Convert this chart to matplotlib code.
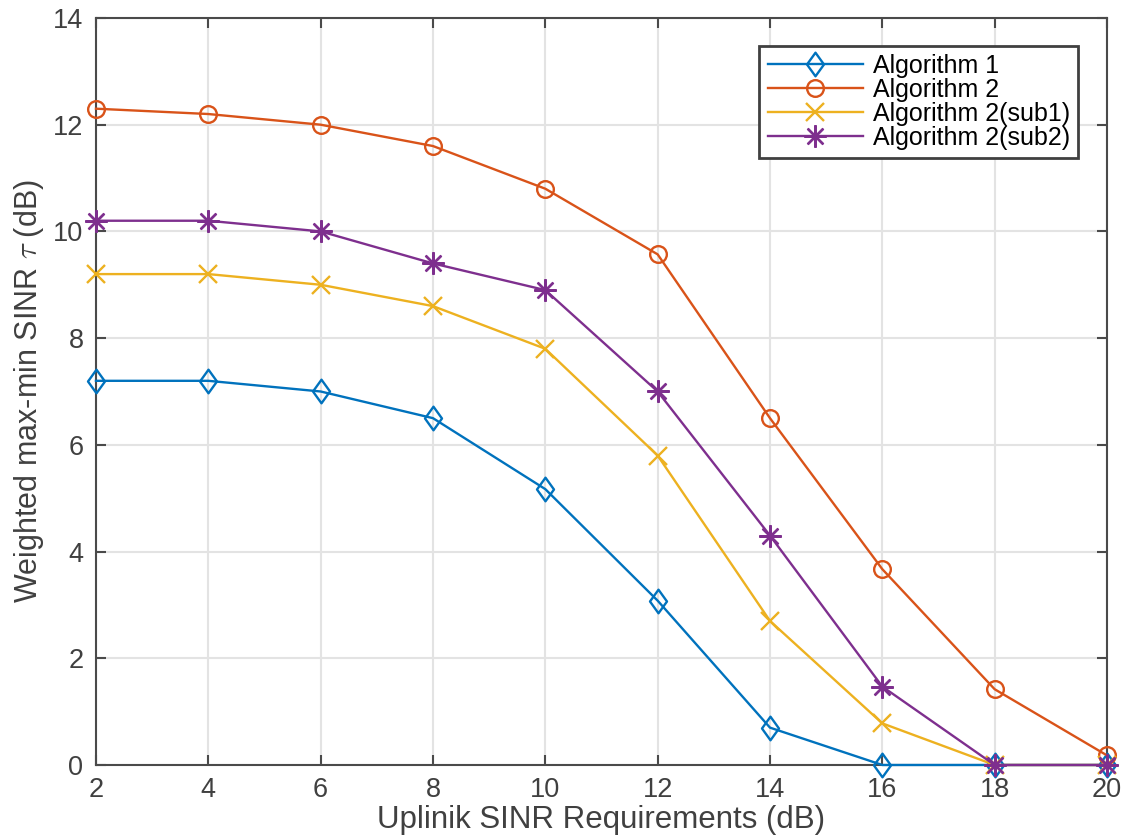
import numpy as np
import matplotlib
matplotlib.use('Agg')
import matplotlib.pyplot as plt
from matplotlib.path import Path

plt.rcParams['font.family'] = ['Liberation Sans', 'DejaVu Sans']
plt.rcParams['mathtext.fontset'] = 'cm'

# data
x = [2, 4, 6, 8, 10, 12, 14, 16, 18, 20]
alg1 = [7.2, 7.2, 7.0, 6.5, 5.17, 3.08, 0.7, 0.0, 0.0, 0.0]
alg2 = [12.3, 12.2, 12.0, 11.6, 10.8, 9.57, 6.5, 3.67, 1.42, 0.18]
sub1 = [9.2, 9.2, 9.0, 8.6, 7.8, 5.8, 2.7, 0.78, 0.0, 0.0]
sub2 = [10.2, 10.2, 10.0, 9.4, 8.9, 7.0, 4.3, 1.47, 0.0, 0.0]
labels = ['Algorithm 1', 'Algorithm 2', 'Algorithm 2(sub1)', 'Algorithm 2(sub2)']

# matlab style tall diamond
diamond = Path([(0, 1), (0.72, 0), (0, -1), (-0.72, 0), (0, 1)],
               [Path.MOVETO, Path.LINETO, Path.LINETO, Path.LINETO, Path.CLOSEPOLY])

colors = ['#0072BD', '#D95319', '#EDB120', '#7E2F8E']
markers = [diamond, 'o', 'x', (8, 2, 0)]
sizes = [17, 12, 13, 16]

fig = plt.figure(figsize=(11.29, 8.40), dpi=100)
ax = fig.add_axes([0.085, 0.0893, 0.8955, 0.8893])

for ys, c, m, s, lab in zip([alg1, alg2, sub1, sub2], colors, markers, sizes, labels):
    ax.plot(x, ys, color=c, lw=1.7, marker=m, ms=s, mfc='none', mec=c, mew=1.7,
            label=lab, clip_on=False, zorder=3)

ax.set_xlim(2, 20)
ax.set_ylim(0, 14)
ax.set_xticks(np.arange(2, 21, 2))
ax.set_yticks(np.arange(0, 15, 2))
ax.grid(True, color='#e3e3e3', lw=1.5)
ax.set_axisbelow(True)

tc = '#404040'
for sp in ax.spines.values():
    sp.set_color('#4a4a4a')
    sp.set_linewidth(1.5)
ax.tick_params(direction='in', length=7, width=1.5, colors='#4a4a4a', labelcolor=tc,
               labelsize=19.5, top=True, right=True, pad=9)

ax.set_xlabel('Uplinik SINR Requirements (dB)', fontsize=22.5, color=tc, labelpad=1)
ax.set_ylabel(r'Weighted max-min SINR $\tau$ (dB)', fontsize=22, color=tc, labelpad=5)

leg = ax.legend(loc='upper right', bbox_to_anchor=(0.9713, 0.9625), fontsize=18,
                frameon=True, fancybox=False, framealpha=1, handlelength=3.8,
                borderpad=0.33, labelspacing=0.0, handletextpad=0.4,
                borderaxespad=0)
leg.get_frame().set_edgecolor('#404040')
leg.get_frame().set_linewidth(2)

fig.savefig('out.png', dpi=100)
